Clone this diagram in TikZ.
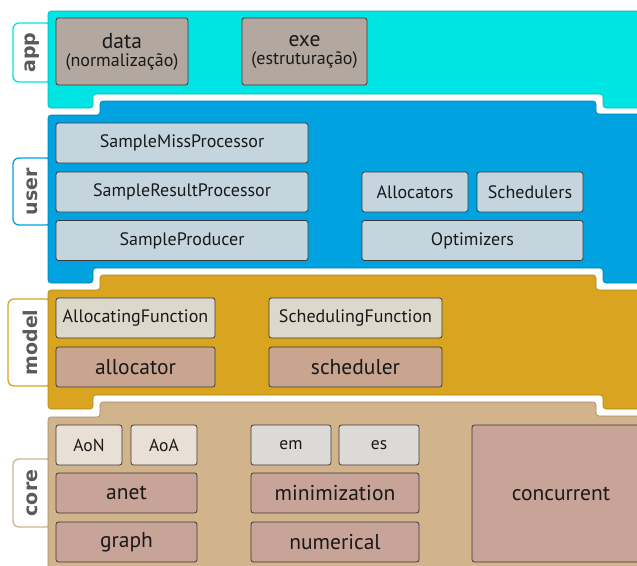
\documentclass[tikz,border=0pt]{standalone}
\usepackage{fontspec}
\newfontfamily\boxfont{PT Sans}
\newfontfamily\tagfont{DejaVu Sans}

\definecolor{appcyan}{HTML}{00E4E4}
\definecolor{userblue}{HTML}{00A2E0}
\definecolor{modelgold}{HTML}{D9A521}
\definecolor{coretan}{HTML}{D2B48C}
\definecolor{exefill}{HTML}{B2A89F}
\definecolor{userfill}{HTML}{C4D5DE}
\definecolor{funcfill}{HTML}{DCD8CC}
\definecolor{modfill}{HTML}{C9A48E}
\definecolor{aofill}{HTML}{E8E0D4}
\definecolor{efill}{HTML}{DBDAD6}
\definecolor{corefill}{HTML}{C8A397}
\definecolor{boxline}{HTML}{3A3A3A}
\definecolor{taggray}{HTML}{5A5A5A}

\tikzset{
  layer/.style={rounded corners=3pt, line width=0.6pt},
  tag/.style={draw=#1, fill=white, line width=1.3pt, rounded corners=6pt, inner sep=0pt,
    rotate=90, text=taggray, font=\tagfont\bfseries\fontsize{19}{19}\selectfont},
  box/.style={draw=boxline, line width=0.8pt, rounded corners=2.5pt, inner sep=0pt,
    outer sep=0pt, text=black!90, align=center},
  big/.style={font=\boxfont\fontsize{21.5}{22}\selectfont},
  mid/.style={font=\boxfont\fontsize{18}{19}\selectfont},
  small/.style={font=\boxfont\fontsize{17.5}{18}\selectfont},
}

\begin{document}
\begin{tikzpicture}[x=1pt, y=-1pt]
    \useasboundingbox (0,0) rectangle (637,565);
    \clip (0,0) rectangle (637,565);

    % Tags on the left
    \node[tag=appcyan, minimum width=59, minimum height=39] (apptag) at (32.5,52.5) {app};
    \node[tag=userblue, minimum width=67, minimum height=39] (usertag) at (32.5,191.5) {user};
    \node[tag=modelgold, minimum width=87, minimum height=44] (modeltag) at (30,342.5) {model};
    \node[tag=coretan, minimum width=68, minimum height=39] (coretag) at (32.5,493) {core};

    % Layers
    \draw[layer, fill=appcyan, draw=appcyan!80!black]
        (48,108) -- (48,11) -- (660,11) -- (660,108) -- (603,108) -- (603,94)
        -- (93,94) -- (93,108) -- cycle;
    \draw[layer, fill=userblue, draw=userblue!80!black]
        (48,283) -- (48,115) -- (100,115) -- (100,101) -- (596,101) -- (596,114)
        -- (660,114) -- (660,283) -- (603,283) -- (603,268) -- (93,268) -- (93,283) -- cycle;
    \draw[layer, fill=modelgold, draw=modelgold!80!black]
        (48,409) -- (48,290) -- (100,290) -- (100,275) -- (596,275) -- (596,290)
        -- (660,290) -- (660,409) -- (603,409) -- (603,395) -- (93,395) -- (93,409) -- cycle;
    \draw[layer, fill=coretan, draw=coretan!75!black]
        (48,590) -- (48,417) -- (100,417) -- (100,402) -- (596,402) -- (596,416)
        -- (660,416) -- (660,590) -- cycle;

    % app
    \node[box, big, fill=exefill, minimum width=132, minimum height=67] (data) at (122,51.5)
        {data\\[-4pt]{\fontsize{18}{19}\selectfont (normalização)}};
    \node[box, big, fill=exefill, minimum width=125, minimum height=67] (exe) at (304.5,51.5)
        {exe\\[-4pt]{\fontsize{18}{19}\selectfont (estruturação)}};

    % user
    \node[box, mid, fill=userfill, minimum width=252, minimum height=40] (missproc) at (182,143) {SampleMissProcessor};
    \node[box, mid, fill=userfill, minimum width=252, minimum height=40] (resultproc) at (182,192) {SampleResultProcessor};
    \node[box, mid, fill=userfill, minimum width=252, minimum height=40] (producer) at (182,240.5) {SampleProducer};
    \node[box, mid, fill=userfill, minimum width=106, minimum height=40] (allocators) at (415,192) {Allocators};
    \node[box, mid, fill=userfill, minimum width=106, minimum height=40] (schedulers) at (530,192) {Schedulers};
    \node[box, mid, fill=userfill, minimum width=221, minimum height=40] (optimizers) at (472.5,240.5) {Optimizers};

    % model
    \node[box, mid, fill=funcfill, minimum width=159, minimum height=40] (allocfunc) at (135.5,318) {AllocatingFunction};
    \node[box, big, fill=modfill, minimum width=159, minimum height=40] (allocator) at (135.5,367) {allocator};
    \node[box, mid, fill=funcfill, minimum width=173, minimum height=40] (schedfunc) at (355.5,318) {SchedulingFunction};
    \node[box, big, fill=modfill, minimum width=173, minimum height=40] (scheduler) at (355.5,367) {scheduler};

    % core
    \node[box, small, fill=aofill, minimum width=66, minimum height=40] (aon) at (89,445) {AoN};
    \node[box, small, fill=aofill, minimum width=66, minimum height=40] (aoa) at (164,445) {AoA};
    \node[box, small, fill=efill, minimum width=80, minimum height=40] (em) at (291,445) {em};
    \node[box, small, fill=efill, minimum width=80, minimum height=40] (es) at (379,445) {es};
    \node[box, big, fill=corefill, minimum width=141, minimum height=40] (anet) at (126.5,493) {anet};
    \node[box, big, fill=corefill, minimum width=141, minimum height=40] (graph) at (126.5,542) {graph};
    \node[box, big, fill=corefill, minimum width=168, minimum height=40] (minim) at (335,493) {minimization};
    \node[box, big, fill=corefill, minimum width=168, minimum height=40] (numerical) at (335,542) {numerical};
    \node[box, big, fill=corefill, minimum width=178, minimum height=137] (concurrent) at (561,493.5) {concurrent};
\end{tikzpicture}
\end{document}
